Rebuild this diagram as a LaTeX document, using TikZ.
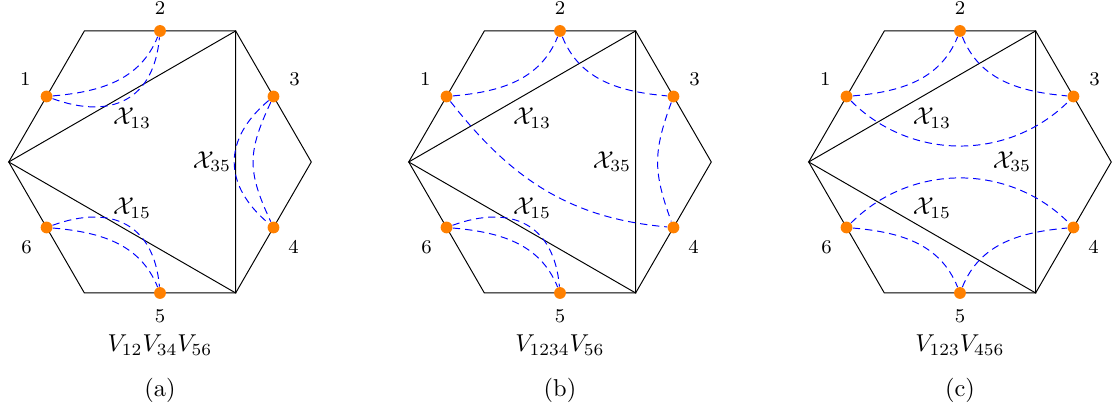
\documentclass[tikz,border=0pt]{standalone}
\usepackage{amsmath,amssymb}
\usepackage{tikz}
\usetikzlibrary{calc,positioning}

\tikzset{
  punto/.style={circle, fill=orange, inner sep=0pt, minimum size=1.7mm},
  etic/.style={font=\footnotesize, label distance=0.5pt},
  canale/.style={blue, dash pattern=on 3pt off 2pt},
}

\begin{document}
\begin{tikzpicture}
\useasboundingbox (-2.306,-3.631) rectangle (13.762,2.334);
\def\Rhex{2.18}
\def\Rmid{1.888}
% esagoni con triangolo inscritto
\foreach \p/\dx/\vv in {a/0/{V_{12}V_{34}V_{56}}, b/5.764/{V_{1234}V_{56}}, c/11.528/{V_{123}V_{456}}}{
  \begin{scope}[xshift=\dx cm]
    \draw (0:\Rhex) -- (60:\Rhex) -- (120:\Rhex) -- (180:\Rhex) -- (240:\Rhex) -- (300:\Rhex) -- cycle;
    \coordinate (\p L) at (180:\Rhex);
    \coordinate (\p T) at (60:\Rhex);
    \coordinate (\p B) at (-60:\Rhex);
    \draw (\p L) -- (\p T) -- (\p B) -- cycle;
    \foreach \n/\ang/\la in {1/150/165, 2/90/90, 3/30/15, 4/-30/-35, 5/-90/-90, 6/210/215}{
      \node[punto, label={[etic]\la:\n}] (\p\n) at (\ang:\Rmid) {};
    }
    \node[anchor=base] (\p x13) at (-0.403,0.533) {$\mathcal{X}_{13}$};
    \node[anchor=base] (\p x35) at (0.749,-0.09) {$\mathcal{X}_{35}$};
    \node[anchor=base] (\p x15) at (-0.403,-0.764) {$\mathcal{X}_{15}$};
    \node[anchor=base] (\p vv) at (0,-2.734) {$\vv$};
    \node[anchor=base] (\p cap) at (0,-3.386) {(\p)};
  \end{scope}
}
% (a)
\draw[canale] (a1) to[out=5,in=-112] (a2);
\draw[canale] (a1) to[out=-20,in=-95,looseness=1.3] (a2);
\draw[canale] (a3) to[out=-140,in=140,looseness=1.25] (a4);
\draw[canale] (a3) to[out=-115,in=115,looseness=1.2] (a4);
\draw[canale] (a6) to[out=20,in=95,looseness=1.3] (a5);
\draw[canale] (a6) to[out=-5,in=112] (a5);
% (b)
\draw[canale] (b1) to[out=5,in=-112] (b2);
\draw[canale] (b2) to[out=-68,in=175] (b3);
\draw[canale] (b3) to[out=-110,in=110,looseness=1.15] (b4);
\draw[canale] (b1) to[out=-52,in=175] (b4);
\draw[canale] (b6) to[out=20,in=95,looseness=1.3] (b5);
\draw[canale] (b6) to[out=-5,in=112] (b5);
% (c)
\draw[canale] (c1) to[out=5,in=-112] (c2);
\draw[canale] (c2) to[out=-68,in=175] (c3);
\draw[canale] (c1) to[out=-45,in=-135] (c3);
\draw[canale] (c6) to[out=45,in=135] (c4);
\draw[canale] (c6) to[out=-5,in=112] (c5);
\draw[canale] (c5) to[out=68,in=-175] (c4);
\end{tikzpicture}
\end{document}
